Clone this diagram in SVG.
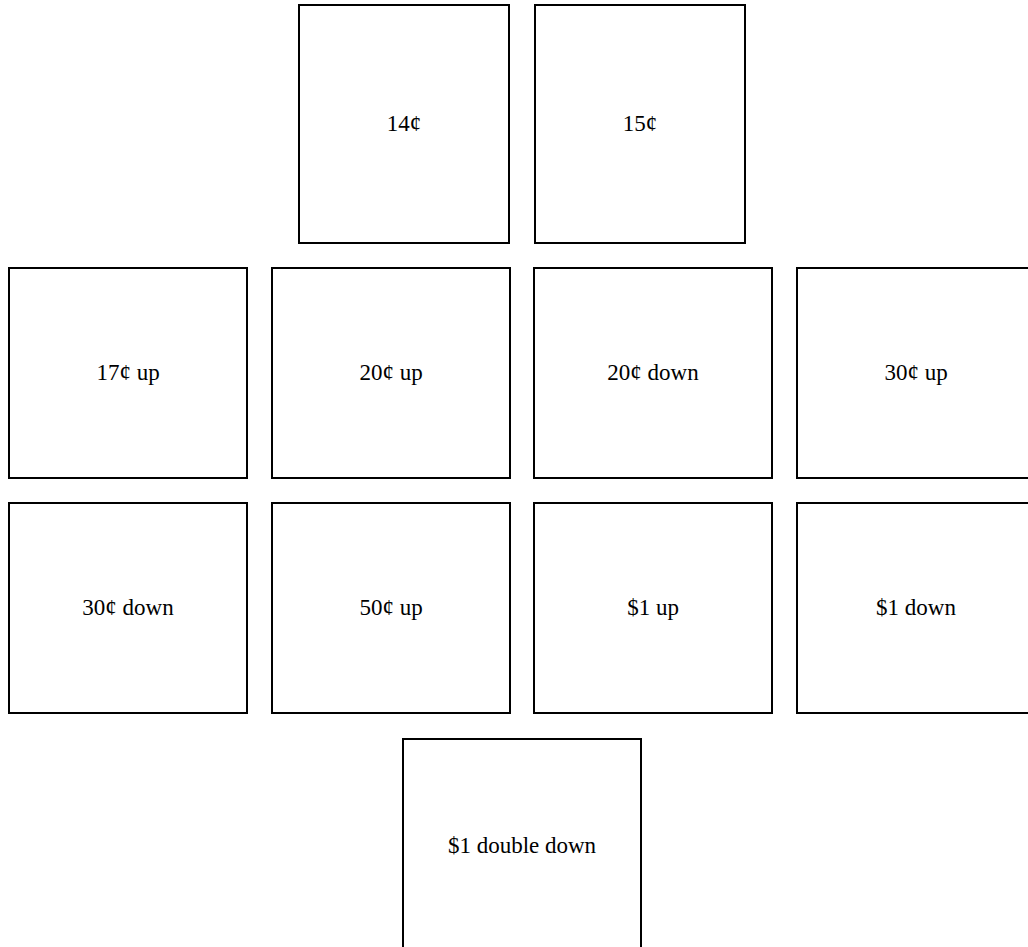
<svg xmlns="http://www.w3.org/2000/svg" width="1028" height="947" viewBox="0 0 1028 947">
<style>
.b{fill:#fff;stroke:#000;stroke-width:2}
.t{font-family:"Liberation Serif",serif;font-size:23px;fill:#000;text-anchor:middle}
</style>
<rect width="1028" height="947" fill="#fff"/>
<g id="n14"><rect class="b" x="299" y="5" width="210" height="238"/><text class="t" x="404" y="131">14¢</text></g>
<g id="n15"><rect class="b" x="535" y="5" width="210" height="238"/><text class="t" x="640" y="131">15¢</text></g>
<g id="n17up"><rect class="b" x="9" y="268" width="238" height="210"/><text class="t" x="128" y="380">17¢ up</text></g>
<g id="n20up"><rect class="b" x="272" y="268" width="238" height="210"/><text class="t" x="391" y="380">20¢ up</text></g>
<g id="n20down"><rect class="b" x="534" y="268" width="238" height="210"/><text class="t" x="653" y="380">20¢ down</text></g>
<g id="n30up"><rect class="b" x="797" y="268" width="238" height="210"/><text class="t" x="916" y="380">30¢ up</text></g>
<g id="n30down"><rect class="b" x="9" y="503" width="238" height="210"/><text class="t" x="128" y="615">30¢ down</text></g>
<g id="n50up"><rect class="b" x="272" y="503" width="238" height="210"/><text class="t" x="391" y="615">50¢ up</text></g>
<g id="n1up"><rect class="b" x="534" y="503" width="238" height="210"/><text class="t" x="653" y="615">$1 up</text></g>
<g id="n1down"><rect class="b" x="797" y="503" width="238" height="210"/><text class="t" x="916" y="615">$1 down</text></g>
<g id="n1dd"><rect class="b" x="403" y="739" width="238" height="230"/><text class="t" x="522" y="853">$1 double down</text></g>
<g id="connectors"></g>
</svg>
